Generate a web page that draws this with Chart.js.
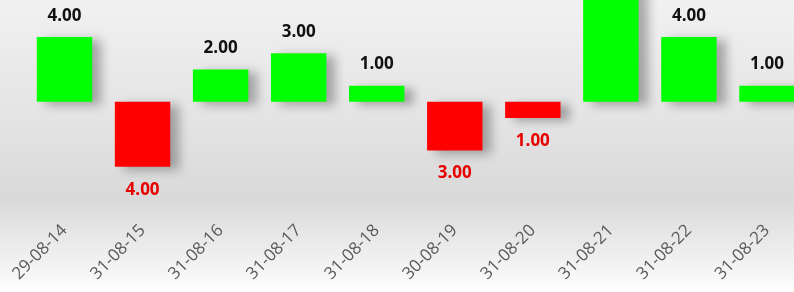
<!DOCTYPE html>
<html>
<head>
<meta charset="utf-8">
<script src="https://cdn.jsdelivr.net/npm/chart.js@4.4.1/dist/chart.umd.min.js"></script>
<style>
  html, body { margin: 0; padding: 0; overflow: hidden; }
  body {
    width: 794px; height: 292px;
    background: linear-gradient(to bottom, #f1f1f1 0%, #e4e4e4 40%, #d9d9d9 68%, #f4f4f4 92%, #ffffff 100%);
  }
  #wrap { position: absolute; left: 0; top: 0; width: 806px; height: 292px; }
</style>
</head>
<body>
<div id="wrap"><canvas id="myChart"></canvas></div>
<script>
const dates = ['29-08-14', '31-08-15', '31-08-16', '31-08-17', '31-08-18', '30-08-19', '31-08-20', '31-08-21', '31-08-22', '31-08-23'];
const changes = [4, -4, 2, 3, 1, -3, -1, 7, 4, 1];
const yMin = -6.95;
const yMax = 6.28;

const ctx = document.querySelector('#myChart').getContext('2d');

// soft shadow behind the bars
const barShadow = {
    id: 'barShadow',
    beforeDatasetsDraw(chart) {
        const c = chart.ctx;
        c.save();
        c.shadowColor = 'rgba(0, 0, 0, 0.3)';
        c.shadowBlur = 10;
        c.shadowOffsetX = 9;
        c.shadowOffsetY = 3;
    },
    afterDatasetsDraw(chart) {
        chart.ctx.restore();
    }
};

// value labels above / below the bars
const valueLabels = {
    id: 'valueLabels',
    afterDraw(chart) {
        const c = chart.ctx;
        const meta = chart.getDatasetMeta(0);
        c.save();
        c.font = 'bold 17px "Open Sans"';
        c.textAlign = 'center';
        c.textBaseline = 'middle';
        meta.data.forEach((bar, i) => {
            const v = changes[i];
            const txt = Math.abs(v).toFixed(2);
            if (v >= 0) {
                c.fillStyle = '#111111';
                c.fillText(txt, bar.x, bar.y - 21);
            } else {
                c.fillStyle = '#e60000';
                c.fillText(txt, bar.x, bar.y + 23);
            }
        });
        c.restore();
    }
};

const data = {
    labels: dates,
    datasets: [{
        data: changes,
        backgroundColor: changes.map(v => v >= 0 ? '#00ff00' : '#ff0000'),
        borderWidth: 0,
        categoryPercentage: 0.71,
        barPercentage: 1.0,
    }],
};

const config = {
    type: 'bar',
    data: data,
    plugins: [barShadow, valueLabels],
    options: {
        responsive: true,
        maintainAspectRatio: false,
        animation: false,
        layout: { padding: { left: 25.5, right: 0, top: 0, bottom: 2 } },
        plugins: {
            legend: { display: false },
            tooltip: { enabled: false }
        },
        scales: {
            x: {
                grid: { display: false, drawTicks: false },
                border: { display: false },
                ticks: {
                    color: '#595959',
                    font: { family: 'Open Sans', size: 17 },
                    minRotation: 45,
                    maxRotation: 45,
                    padding: 6
                }
            },
            y: {
                display: false,
                min: yMin,
                max: yMax
            }
        }
    },
};

const myChart = new Chart(ctx, config);
</script>
</body>
</html>
